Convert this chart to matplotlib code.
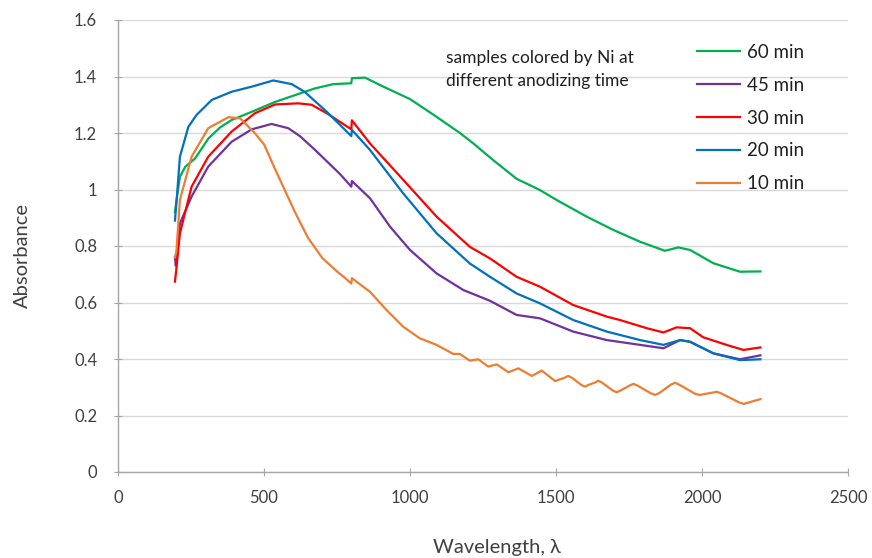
import matplotlib
matplotlib.use('Agg')
from matplotlib import pyplot as plt

plt.rcParams['font.family'] = ['Lato', 'DejaVu Sans']

# Absorbance spectra, values
wl_60 = [195, 200, 212, 230, 264, 290, 309, 350, 389, 458, 538, 623, 675, 737, 799,
         801, 846, 909, 1000, 1080, 1171, 1217, 1285, 1365, 1445, 1502, 1605, 1696,
         1788, 1873, 1919, 1959, 2039, 2130, 2200]
abs_60 = [0.92, 0.96, 1.045, 1.08, 1.11, 1.15, 1.18, 1.22, 1.246, 1.275, 1.31, 1.34,
          1.358, 1.373, 1.376, 1.394, 1.396, 1.364, 1.32, 1.265, 1.2, 1.163, 1.104,
          1.038, 0.998, 0.963, 0.904, 0.857, 0.815, 0.783, 0.795, 0.786, 0.739, 0.709,
          0.71]

wl_45 = [195, 198, 212, 252, 309, 389, 458, 526, 583, 623, 675, 715, 760, 799, 801,
         863, 932, 1000, 1091, 1183, 1274, 1365, 1445, 1559, 1674, 1788, 1868, 1925,
         1959, 2039, 2130, 2200]
abs_45 = [0.76, 0.73, 0.88, 0.975, 1.081, 1.169, 1.213, 1.232, 1.217, 1.189, 1.14,
          1.1, 1.055, 1.01, 1.03, 0.969, 0.868, 0.786, 0.703, 0.644, 0.606, 0.556,
          0.544, 0.497, 0.467, 0.45, 0.438, 0.467, 0.461, 0.42, 0.399, 0.413]

wl_30 = [195, 200, 212, 252, 309, 389, 469, 538, 617, 663, 715, 799, 801, 863, 977,
         1091, 1205, 1274, 1365, 1445, 1559, 1674, 1719, 1811, 1868, 1913, 1959, 2004,
         2084, 2142, 2200]
abs_30 = [0.674, 0.72, 0.845, 1.01, 1.116, 1.205, 1.27, 1.301, 1.305, 1.3, 1.27,
          1.213, 1.245, 1.163, 1.034, 0.904, 0.797, 0.756, 0.691, 0.656, 0.591, 0.55,
          0.538, 0.509, 0.494, 0.512, 0.509, 0.477, 0.45, 0.432, 0.441]

wl_20 = [195, 200, 212, 241, 269, 321, 389, 458, 532, 595, 640, 715, 799, 801, 863,
         977, 1091, 1205, 1274, 1365, 1445, 1559, 1674, 1788, 1868, 1925, 1959, 2039,
         2130, 2200]
abs_20 = [0.89, 0.95, 1.116, 1.222, 1.264, 1.317, 1.346, 1.364, 1.386, 1.373, 1.345,
          1.275, 1.189, 1.211, 1.14, 0.986, 0.845, 0.738, 0.691, 0.632, 0.597, 0.538,
          0.497, 0.467, 0.45, 0.467, 0.461, 0.42, 0.396, 0.399]

wl_10 = [195, 200, 212, 252, 309, 378, 418, 469, 500, 538, 606, 650, 700, 750, 780,
         799, 801, 863, 920, 977, 1034, 1091, 1148, 1171, 1205, 1234, 1268, 1297, 1337,
         1371, 1417, 1451, 1497, 1530, 1542, 1554, 1587, 1599, 1611, 1634, 1645, 1657,
         1695, 1708, 1720, 1752, 1765, 1779, 1824, 1839, 1853, 1893, 1908, 1922, 1978,
         1993, 2008, 2037, 2050, 2064, 2128, 2142, 2156, 2200]
abs_10 = [0.76, 0.78, 0.963, 1.116, 1.217, 1.256, 1.252, 1.199, 1.16, 1.072, 0.92,
          0.83, 0.757, 0.71, 0.685, 0.667, 0.686, 0.638, 0.573, 0.514, 0.473, 0.45,
          0.418, 0.418, 0.394, 0.399, 0.373, 0.381, 0.353, 0.367, 0.34, 0.359, 0.322,
          0.334, 0.34, 0.334, 0.308, 0.302, 0.308, 0.317, 0.323, 0.317, 0.288, 0.282,
          0.288, 0.306, 0.312, 0.306, 0.279, 0.273, 0.279, 0.309, 0.316, 0.309, 0.276,
          0.273, 0.276, 0.281, 0.284, 0.279, 0.246, 0.241, 0.245, 0.258]

fig = plt.figure(dpi=100, figsize=(8.72, 5.58))
ax = fig.add_axes([118 / 872, 86 / 558, 730 / 872, 452 / 558])

lw = 1.6
ax.plot(wl_60, abs_60, c='#00B050', lw=lw, label='60 min')
ax.plot(wl_45, abs_45, c='#7030A0', lw=lw, label='45 min')
ax.plot(wl_30, abs_30, c='#FF0000', lw=lw, label='30 min')
ax.plot(wl_20, abs_20, c='#0070C0', lw=lw, label='20 min')
ax.plot(wl_10, abs_10, c='#ED7D31', lw=lw, label='10 min', solid_joinstyle='round')

ax.set_xlim(0, 2500)
ax.set_ylim(0, 1.6)
ax.set_xticks(range(0, 2501, 500))
ax.set_yticks([0, 0.2, 0.4, 0.6, 0.8, 1.0, 1.2, 1.4, 1.6])
ax.set_yticklabels(['0', '0.2', '0.4', '0.6', '0.8', '1', '1.2', '1.4', '1.6'])
ax.grid(axis='y', color='#D9D9D9', lw=1)
ax.set_axisbelow(True)

for side in ['top', 'right']:
    ax.spines[side].set_visible(False)
for side in ['left', 'bottom']:
    ax.spines[side].set_color('#A6A6A6')
    ax.spines[side].set_linewidth(1)

ax.tick_params(axis='x', direction='inout', length=6, color='#A6A6A6',
               labelsize=12, labelcolor='#404040', pad=10)
ax.tick_params(axis='y', direction='inout', length=6, color='#A6A6A6',
               labelsize=12, labelcolor='#404040', pad=12)

fig.text(22 / 872, 1 - 255 / 558, 'Absorbance', rotation=90, fontsize=14.5,
         color='#404040', ha='center', va='center')
fig.text(497 / 872, 1 - 547 / 558, 'Wavelength, λ', fontsize=14.5,
         color='#404040', ha='center', va='center')

ax.text(1123, 1.425, 'samples colored by Ni at\ndifferent anodizing time',
        fontsize=12.5, color='#202020', ha='left', va='center', linespacing=1.6)

ax.legend(loc='upper left', bbox_to_anchor=(0.77, 0.985), frameon=False,
          fontsize=13.5, handlelength=2.3, handletextpad=0.35, labelspacing=0.85,
          labelcolor='#202020')

plt.savefig('out.png')
